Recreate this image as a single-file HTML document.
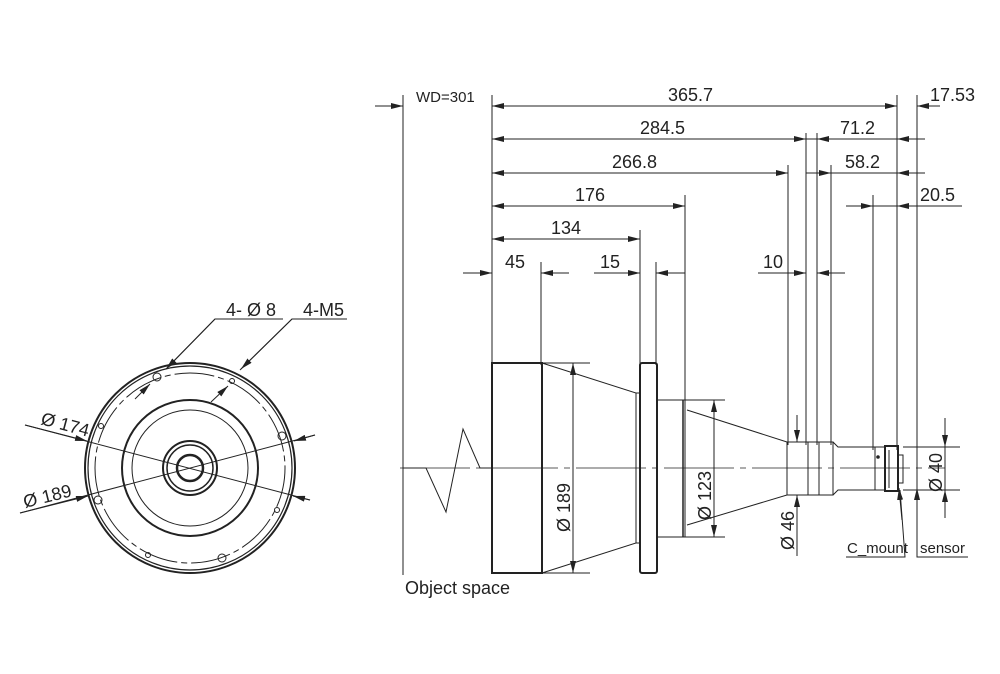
<!DOCTYPE html>
<html><head><meta charset="utf-8"><style>
html,body{margin:0;padding:0;background:#fff;}
svg{display:block;}
text{font-family:"Liberation Sans",sans-serif;fill:#222;}
</style></head><body>
<svg width="1000" height="674" viewBox="0 0 1000 674" xmlns="http://www.w3.org/2000/svg">
<defs>
<marker id="a" viewBox="0 0 12 6" refX="12" refY="3" markerWidth="12" markerHeight="6" markerUnits="userSpaceOnUse" orient="auto-start-reverse"><path d="M0,0 L12,3 L0,6 z" fill="#222"/></marker>
</defs>
<g stroke="#222" fill="none" stroke-width="1">
<circle cx="190" cy="468" r="105" stroke-width="2"/>
<circle cx="190" cy="468" r="102" stroke-width="1.2"/>
<circle cx="190" cy="468" r="95" stroke-dasharray="40 4 6 4"/>
<circle cx="190" cy="468" r="68" stroke-width="2"/>
<circle cx="190" cy="468" r="58"/>
<circle cx="190" cy="468" r="27" stroke-width="2"/>
<circle cx="190" cy="468" r="23" stroke-width="1.5"/>
<circle cx="190" cy="468" r="13" stroke-width="2.5"/>
<circle cx="157" cy="377" r="4"/><circle cx="282" cy="436" r="4"/><circle cx="98" cy="500" r="4"/><circle cx="222" cy="558" r="4"/>
<circle cx="232" cy="381" r="2.5"/><circle cx="101" cy="426" r="2.5"/><circle cx="277" cy="510" r="2.5"/><circle cx="148" cy="555" r="2.5"/>
<line x1="25" y1="425" x2="310" y2="500"/>
<line x1="20" y1="513" x2="315" y2="435"/>
<line x1="25" y1="425" x2="87" y2="441" marker-end="url(#a)"/>
<line x1="310" y1="500" x2="293" y2="496" marker-end="url(#a)"/>
<line x1="20" y1="513" x2="88" y2="496" marker-end="url(#a)"/>
<line x1="315" y1="435" x2="294" y2="441" marker-end="url(#a)"/>
<polyline points="283,319 215,319 168,367"/>
<line x1="215" y1="319" x2="166" y2="369" marker-end="url(#a)"/>
<line x1="135" y1="399" x2="150" y2="384" marker-end="url(#a)"/>
<polyline points="347,319 292,319 240,370"/>
<line x1="292" y1="319" x2="241" y2="369" marker-end="url(#a)"/>
<line x1="211" y1="402" x2="228" y2="386" marker-end="url(#a)"/>

<line x1="403" y1="95" x2="403" y2="575"/>
<line x1="492" y1="95" x2="492" y2="365"/>
<line x1="897" y1="95" x2="897" y2="450"/>
<line x1="917" y1="95" x2="917" y2="557"/>
<line x1="806" y1="133" x2="806" y2="445"/>
<line x1="817" y1="133" x2="817" y2="445"/>
<line x1="788" y1="165" x2="788" y2="445"/>
<line x1="831" y1="165" x2="831" y2="445"/>
<line x1="685" y1="195" x2="685" y2="400"/>
<line x1="873" y1="195" x2="873" y2="450"/>
<line x1="640" y1="230" x2="640" y2="365"/>
<line x1="541" y1="262" x2="541" y2="365"/>
<line x1="656" y1="262" x2="656" y2="365"/>
<line x1="375" y1="106" x2="403" y2="106" marker-end="url(#a)"/>
<line x1="492" y1="106" x2="897" y2="106" marker-start="url(#a)" marker-end="url(#a)"/>
<line x1="940" y1="106" x2="917" y2="106" marker-end="url(#a)"/>
<line x1="492" y1="139" x2="806" y2="139" marker-start="url(#a)" marker-end="url(#a)"/>
<line x1="806" y1="139" x2="925" y2="139"/>
<line x1="830" y1="139" x2="817" y2="139" marker-end="url(#a)"/>
<line x1="925" y1="139" x2="897" y2="139" marker-end="url(#a)"/>
<line x1="492" y1="173" x2="788" y2="173" marker-start="url(#a)" marker-end="url(#a)"/>
<line x1="806" y1="173" x2="831" y2="173" marker-end="url(#a)"/>
<line x1="831" y1="173" x2="925" y2="173"/>
<line x1="925" y1="173" x2="897" y2="173" marker-end="url(#a)"/>
<line x1="492" y1="206" x2="685" y2="206" marker-start="url(#a)" marker-end="url(#a)"/>
<line x1="846" y1="206" x2="873" y2="206" marker-end="url(#a)"/>
<line x1="873" y1="206" x2="962" y2="206"/>
<line x1="935" y1="206" x2="897" y2="206" marker-end="url(#a)"/>
<line x1="492" y1="239" x2="640" y2="239" marker-start="url(#a)" marker-end="url(#a)"/>
<line x1="463" y1="273" x2="492" y2="273" marker-end="url(#a)"/>
<line x1="569" y1="273" x2="541" y2="273" marker-end="url(#a)"/>
<line x1="594" y1="273" x2="640" y2="273" marker-end="url(#a)"/>
<line x1="685" y1="273" x2="656" y2="273" marker-end="url(#a)"/>
<line x1="758" y1="273" x2="806" y2="273" marker-end="url(#a)"/>
<line x1="845" y1="273" x2="817" y2="273" marker-end="url(#a)"/>
<rect x="492" y="363" width="50" height="210" stroke-width="2"/>
<polyline points="542,363 636,393 636,543 542,573"/>
<line x1="542" y1="363" x2="590" y2="363"/><line x1="542" y1="573" x2="590" y2="573"/>
<rect x="640" y="363" width="17" height="210" rx="2" stroke-width="2"/>
<line x1="636" y1="393" x2="640" y2="393"/><line x1="636" y1="543" x2="640" y2="543"/>
<rect x="657" y="400" width="28" height="137"/>
<line x1="683" y1="400" x2="683" y2="537" stroke-width="1.5"/>
<line x1="685" y1="400" x2="725" y2="400"/><line x1="685" y1="537" x2="725" y2="537"/>
<polyline points="687,410 787,442 787,495 687,525"/>
<rect x="787" y="442" width="46" height="53"/>
<line x1="808" y1="442" x2="808" y2="495"/><line x1="819" y1="442" x2="819" y2="495"/>
<polyline points="833,442 838,447 875,447 875,490 838,490 833,495"/>
<rect x="885" y="446" width="13" height="45" stroke-width="2"/>
<line x1="875" y1="447" x2="885" y2="447"/><line x1="875" y1="490" x2="885" y2="490"/>
<line x1="889" y1="450" x2="889" y2="488"/>
<rect x="898" y="455" width="5" height="28"/>
<circle cx="878" cy="457" r="1.3" fill="#222"/>
<line x1="903" y1="447" x2="960" y2="447"/><line x1="903" y1="490" x2="960" y2="490"/>
<line x1="945" y1="418" x2="945" y2="447" marker-end="url(#a)"/>
<line x1="945" y1="518" x2="945" y2="490" marker-end="url(#a)"/>
<line x1="945" y1="447" x2="945" y2="490"/>
<line x1="797" y1="415" x2="797" y2="442" marker-end="url(#a)"/>
<line x1="797" y1="556" x2="797" y2="495" marker-end="url(#a)"/>
<line x1="573" y1="363" x2="573" y2="573" marker-start="url(#a)" marker-end="url(#a)"/>
<line x1="714" y1="400" x2="714" y2="537" marker-start="url(#a)" marker-end="url(#a)"/>
<line x1="400" y1="468" x2="945" y2="468" stroke-dasharray="70 6 6 6" stroke-width="0.8"/>
<polyline points="403,468 426,468 446,512 463,429 480,468 492,468"/>
<polyline points="846,557 905,557 900,490"/>
<line x1="902" y1="520" x2="899" y2="488" marker-end="url(#a)"/>
<polyline points="968,557 917,557 917,488"/>
<line x1="917" y1="505" x2="917" y2="488" marker-end="url(#a)"/>
</g>
<g font-size="18">
<text x="226" y="316">4- Ø 8</text>
<text x="303" y="316">4-M5</text>
<text x="40" y="424" transform="rotate(15 40 424)">Ø 174</text>
<text x="25" y="508" transform="rotate(-14 25 508)">Ø 189</text>
<text x="416" y="102" font-size="15">WD=301</text>
<text x="668" y="101">365.7</text>
<text x="930" y="101">17.53</text>
<text x="640" y="134">284.5</text>
<text x="840" y="134">71.2</text>
<text x="612" y="168">266.8</text>
<text x="845" y="168">58.2</text>
<text x="575" y="201">176</text>
<text x="920" y="201">20.5</text>
<text x="551" y="234">134</text>
<text x="505" y="268">45</text>
<text x="600" y="268">15</text>
<text x="763" y="268">10</text>
<text x="405" y="594">Object space</text>
<text x="847" y="553" font-size="15">C_mount</text>
<text x="920" y="553" font-size="15">sensor</text>
<text transform="translate(570 532) rotate(-90)">Ø 189</text>
<text transform="translate(711 520) rotate(-90)">Ø 123</text>
<text transform="translate(794 550) rotate(-90)">Ø 46</text>
<text transform="translate(942 492) rotate(-90)">Ø 40</text>
</g>
</svg>
</body></html>
